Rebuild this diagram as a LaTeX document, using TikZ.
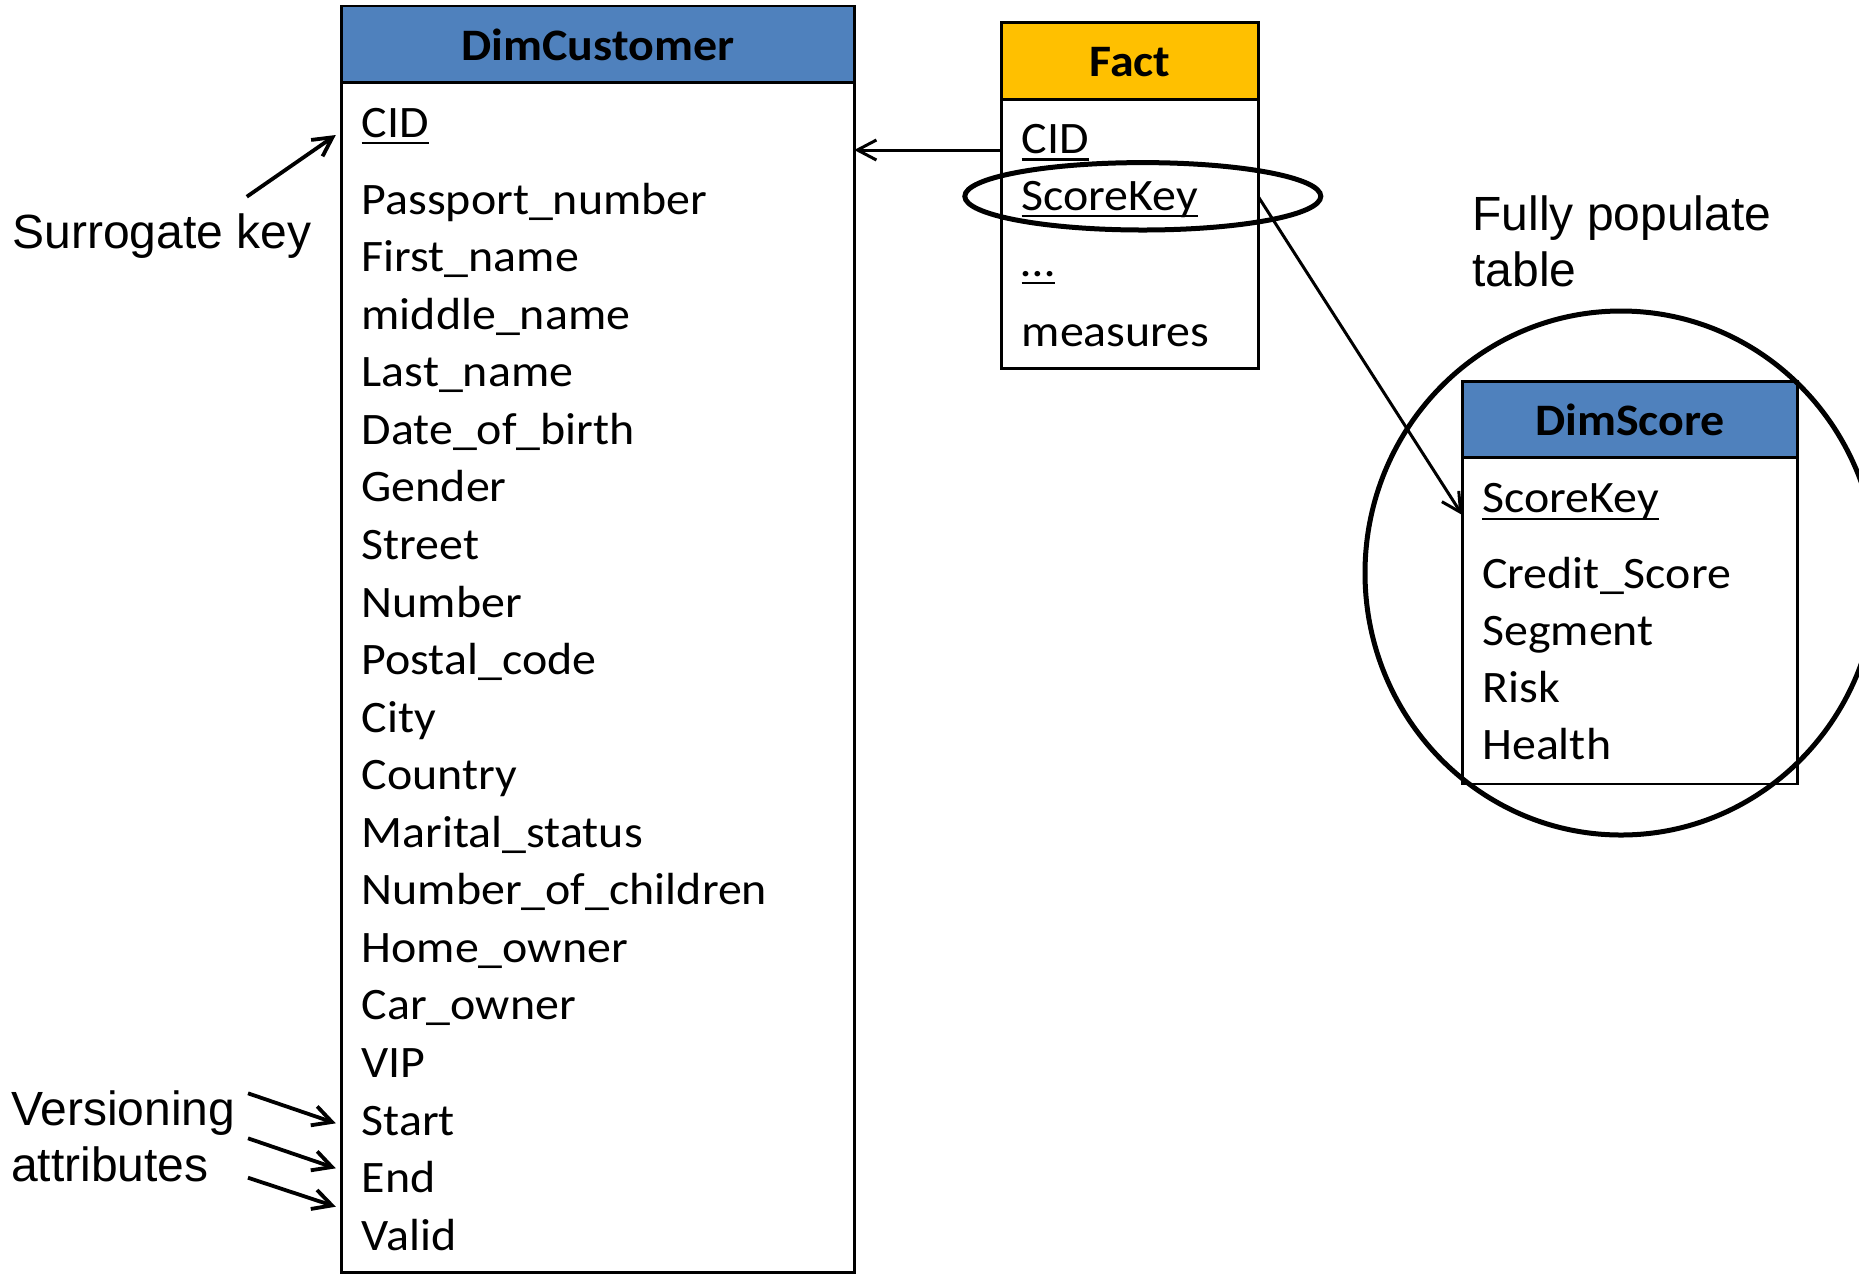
\documentclass[tikz,border=0pt]{standalone}
\usepackage{fontspec}
\setmainfont{Liberation Sans}
\newfontfamily\tabfont[FakeStretch=1.065]{Carlito}
\usetikzlibrary{arrows.meta}
\definecolor{hdrblue}{HTML}{4F81BD}
\definecolor{hdrgold}{HTML}{FFC000}

\begin{document}
\begin{tikzpicture}[x=0.5pt,y=-0.5pt,
  every node/.style={inner sep=0pt, outer sep=0pt},
  frame/.style={draw=black, line width=1.3pt, anchor=north west},
  tabtext/.style={font=\tabfont\fontsize{22.5}{27}\selectfont, anchor=base west},
  tabhead/.style={font=\tabfont\bfseries\fontsize{22.5}{27}\selectfont, anchor=base},
  note/.style={font=\fontsize{24}{28}\selectfont, anchor=base west, align=left},
  ul/.style={line width=1.2pt},
  conn/.style={line width=1.5pt, -{Straight Barb[length=9.5pt,width=10pt]}},
  notearrow/.style={line width=1.9pt, -{Straight Barb[length=9.5pt,width=10pt]}},
  ring/.style={line width=2.5pt}
]
\useasboundingbox (0,0) rectangle (1859,1276);
\clip (0,0) rectangle (1859,1276);

% ---- DimCustomer table ----
\node[frame, fill=white, minimum width=256.3pt, minimum height=633.35pt] (dimc) at (341.6,6) {};
\node[frame, fill=hdrblue, minimum width=256.3pt, minimum height=38.35pt] (dimch) at (341.6,6) {};
\node[tabhead] (dimct) at (597.9,60) {DimCustomer};
\node[tabtext] (dc0) at (361.7,137.3) {CID};
\draw[ul] ([yshift=-2.8pt]dc0.base west) -- ([yshift=-2.8pt]dc0.base east);
\foreach \f [count=\i] in {Passport\_number, First\_name, middle\_name, Last\_name,
    Date\_of\_birth, Gender, Street, Number, Postal\_code, City, Country,
    Marital\_status, Number\_of\_children, Home\_owner, Car\_owner, VIP,
    Start, End, Valid}
  \node[tabtext] (dc\i) at (361.7,{214+(\i-1)*57.57}) {\f};

% ---- Fact table ----
\node[frame, fill=white, minimum width=128.3pt, minimum height=172.8pt] (fact) at (1001.7,22.7) {};
\node[frame, fill=hdrgold, minimum width=128.3pt, minimum height=38.3pt] (facth) at (1001.7,22.7) {};
\node[tabhead] (factt) at (1130,76.7) {Fact};
\node[tabtext] (f1) at (1021.7,153.5) {CID};
\node[tabtext] (f2) at (1021.7,210) {ScoreKey};
\node[tabtext] (f3) at (1021.7,276.7) {…};
\node[tabtext] (f4) at (1021.7,346.7) {measures};
\foreach \n in {f1,f2,f3}
  \draw[ul] ([yshift=-3pt]\n.base west) -- ([yshift=-3pt]\n.base east);

% ---- DimScore table ----
\node[frame, fill=white, minimum width=167.7pt, minimum height=201.05pt] (dims) at (1462.3,381.7) {};
\node[frame, fill=hdrblue, minimum width=167.7pt, minimum height=38pt] (dimsh) at (1462.3,381.7) {};
\node[tabhead] (dimst) at (1630,435) {DimScore};
\node[tabtext] (s1) at (1482.3,512.3) {ScoreKey};
\draw[ul] ([yshift=-3.3pt]s1.base west) -- ([yshift=-3.3pt]s1.base east);
\node[tabtext] (s2) at (1482.3,588.5) {Credit\_Score};
\node[tabtext] (s3) at (1482.3,645.8) {Segment};
\node[tabtext] (s4) at (1482.3,702.8) {Risk};
\node[tabtext] (s5) at (1482.3,759.9) {Health};

% ---- highlight rings ----
\draw[ring] (1142.8,196.3) ellipse [x radius=178, y radius=33.7];
\draw[ring] (1621,573) ellipse [x radius=256, y radius=262];

% ---- foreign key connectors ----
\coordinate (cidrow) at (0,150);
\draw[conn] (fact.west |- cidrow) -- (dimc.east |- cidrow);
\coordinate (skfrom) at (0,196.7);
\coordinate (skto) at (0,515);
\draw[conn] (fact.east |- skfrom) -- (dims.west |- skto);

% ---- annotations (anchored on the baseline of their last line) ----
\node[note] (sg) at (12.6,248.3) {Surrogate key};
\node[note] (fp) at (1472.5,286.7) {Fully populate\\table};
\node[note] (va) at (11,1181.7) {Versioning\\attributes};

\coordinate (sgtail) at (246.8,196.7);
\coordinate (sghead) at (335.8,135);
\draw[notearrow] (sgtail) -- (sghead);

\coordinate (va1t) at (248,1093.3);
\coordinate (va1h) at (335.8,1123.3);
\coordinate (va2t) at (248,1138.3);
\coordinate (va2h) at (335.8,1168.3);
\coordinate (va3t) at (248,1177.7);
\coordinate (va3h) at (335.8,1206.7);
\draw[notearrow] (va1t) -- (va1h);
\draw[notearrow] (va2t) -- (va2h);
\draw[notearrow] (va3t) -- (va3h);
\end{tikzpicture}
\end{document}
